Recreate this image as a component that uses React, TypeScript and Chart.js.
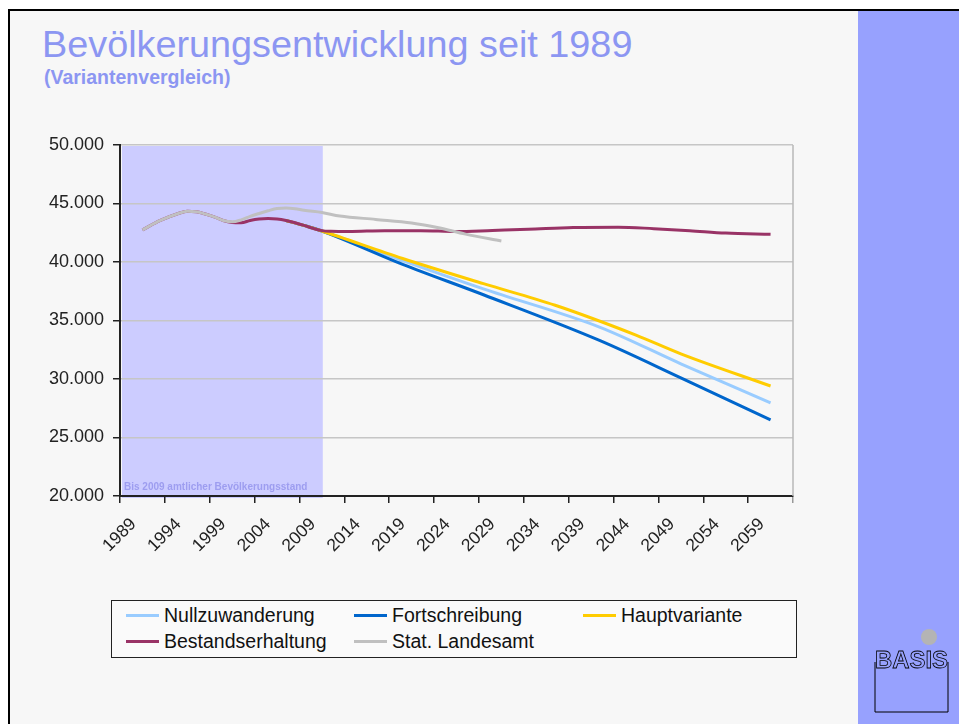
import React, { useEffect, useRef } from 'react';
import { Chart, registerables } from 'chart.js';

Chart.register(...registerables);

// ---- axis / categories ----
const FIRST_YEAR = 1989;
const LAST_YEAR = 2063;
const TICK_LABELS = ['1989', '1994', '1999', '2004', '2009', '2014', '2019', '2024', '2029', '2034', '2039', '2044', '2049', '2054', '2059'];
const Y_MIN = 20000;
const Y_MAX = 50000;
const Y_STEP = 5000;

// ---- texts ----
const TITLE = 'Bevölkerungsentwicklung seit 1989';
const SUBTITLE = '(Variantenvergleich)';
const SHADE_NOTE = 'Bis 2009 amtlicher Bevölkerungsstand';
const SHADE_END_YEAR = 2011.1;

// ---- series ----
const NULL_YEARS = [2007, 2009, 2011, 2020, 2029, 2042, 2051, 2061];
const NULL_VALUES = [43550, 43130, 42650, 40120, 37700, 34420, 31300, 27950];

const FORT_YEARS = [2007, 2009, 2011, 2020, 2029, 2042, 2051, 2061];
const FORT_VALUES = [43550, 43130, 42650, 39800, 37200, 33280, 30100, 26500];

const HAUPT_YEARS = [2007, 2009, 2011, 2020, 2029, 2037, 2046, 2051, 2061];
const HAUPT_VALUES = [43550, 43130, 42650, 40300, 38150, 36300, 33750, 32150, 29400];

const BEST_YEARS = [1991, 1993, 1995, 1996, 1997, 1998, 1999, 2000, 2001, 2002, 2003, 2004, 2005, 2006, 2007, 2008, 2009, 2010, 2011, 2012, 2014, 2018, 2022, 2026, 2030, 2034, 2039, 2044, 2048, 2052, 2056, 2061];
const BEST_VALUES = [42750, 43550, 44150, 44330, 44300, 44100, 43850, 43550, 43380, 43350, 43550, 43680, 43720, 43680, 43550, 43350, 43130, 42880, 42680, 42620, 42600, 42680, 42680, 42600, 42700, 42800, 42950, 42980, 42850, 42680, 42470, 42380];

const STAT_YEARS = [1991, 1993, 1995, 1996, 1997, 1998, 1999, 2000, 2001, 2002, 2003, 2004, 2005, 2006, 2007, 2008, 2009, 2011, 2013, 2017, 2021, 2024, 2027, 2031];
const STAT_VALUES = [42750, 43550, 44150, 44330, 44300, 44100, 43850, 43550, 43430, 43600, 43900, 44150, 44380, 44580, 44620, 44560, 44420, 44230, 43930, 43640, 43340, 42930, 42380, 41800];

const SERIES_NAMES = ['Nullzuwanderung', 'Fortschreibung', 'Hauptvariante', 'Bestandserhaltung', 'Stat. Landesamt'];
const SERIES_COLORS = ['#99ccff', '#0066cc', '#ffcc00', '#993366', '#c0c0c0'];
const SERIES_YEARS = [NULL_YEARS, FORT_YEARS, HAUPT_YEARS, BEST_YEARS, STAT_YEARS];
const SERIES_VALUES = [NULL_VALUES, FORT_VALUES, HAUPT_VALUES, BEST_VALUES, STAT_VALUES];

const FONT = '"Liberation Sans", Arial, Helvetica, sans-serif';

const categories: string[] = [];
for (let y = FIRST_YEAR; y <= LAST_YEAR; y++) categories.push(String(y));

const shadePlugin = {
  id: 'shade',
  beforeDraw(chart: any) {
    const { ctx, chartArea, scales } = chart;
    const x0 = chartArea.left + 2;
    const x1 = scales.x.getPixelForValue(SHADE_END_YEAR - FIRST_YEAR);
    ctx.save();
    ctx.fillStyle = '#ccccff';
    ctx.fillRect(x0, chartArea.top + 1, x1 - x0, chartArea.bottom + 2 - (chartArea.top + 1));
    ctx.font = 'bold 10px ' + FONT;
    ctx.fillStyle = '#9d9df0';
    ctx.textBaseline = 'alphabetic';
    ctx.textAlign = 'left';
    ctx.fillText(SHADE_NOTE, x0 + 2, chartArea.bottom - 6);
    ctx.restore();
  },
  beforeDatasetsDraw(chart: any) {
    const { ctx, chartArea } = chart;
    ctx.save();
    ctx.strokeStyle = '#b8b8b8';
    ctx.lineWidth = 1.5;
    ctx.beginPath();
    ctx.moveTo(chartArea.right, chartArea.top);
    ctx.lineTo(chartArea.right, chartArea.bottom);
    ctx.stroke();
    ctx.restore();
  },
};

function buildDatasets() {
  return SERIES_NAMES.map((name, i) => ({
    label: name,
    data: SERIES_YEARS[i].map((yr, k) => ({ x: String(yr), y: SERIES_VALUES[i][k] })),
    borderColor: SERIES_COLORS[i],
    backgroundColor: SERIES_COLORS[i],
    borderWidth: 3,
    pointRadius: 0,
    cubicInterpolationMode: 'monotone' as const,
    spanGaps: true,
    fill: false,
    order: SERIES_NAMES.length - i,
  }));
}

const LEGEND_COLS = [126, 354, 583];
const LEGEND_ROWS = [615, 641];

export default function App() {
  const canvasRef = useRef<HTMLCanvasElement>(null);

  useEffect(() => {
    if (!canvasRef.current) return;
    const chart = new Chart(canvasRef.current, {
      type: 'line',
      data: { labels: categories, datasets: buildDatasets() as any },
      options: {
        responsive: false,
        animation: false,
        devicePixelRatio: 1,
        layout: { padding: { left: 40, right: 166, top: 145, bottom: 158 } },
        plugins: { legend: { display: false }, tooltip: { enabled: false }, title: { display: false } },
        scales: {
          x: {
            type: 'category',
            offset: true,
            grid: {
              offset: true,
              drawOnChartArea: false,
              drawTicks: true,
              tickLength: 7,
              lineWidth: 1.5,
              tickColor: (c: any) => (c.index === undefined ? '#999' : c.index % 5 === 0 ? '#222' : 'rgba(0,0,0,0)'),
            },
            border: { display: true, color: '#222', width: 2 },
            ticks: {
              autoSkip: false,
              minRotation: 45,
              maxRotation: 45,
              padding: 11,
              labelOffset: 9,
              color: '#222',
              font: { family: FONT, size: 17.5 },
              callback: (_v: any, index: number) => (TICK_LABELS.includes(categories[index]) ? categories[index] : ''),
            },
            afterFit: (s: any) => { s.height = 70; },
          },
          y: {
            min: Y_MIN,
            max: Y_MAX,
            grid: { color: '#c6c6c6', lineWidth: 1.5, tickColor: '#222', tickLength: 7 },
            border: { display: true, color: '#222', width: 2 },
            ticks: {
              stepSize: Y_STEP,
              padding: 9,
              color: '#222',
              font: { family: FONT, size: 18 },
              callback: (v: any) => (Number(v) / 1000).toFixed(3),
            },
            afterFit: (s: any) => { s.width = 80; },
          },
        },
      },
      plugins: [shadePlugin],
    } as any);
    return () => chart.destroy();
  }, []);

  return (
    <div style={{ position: 'fixed', left: 0, top: 0, width: 959, height: 724, background: '#fff', overflow: 'hidden', fontFamily: FONT }}>
      <div style={{ position: 'absolute', left: 8, top: 9, width: 951, height: 715, borderLeft: '2px solid #000', borderTop: '2px solid #000', background: '#f7f7f7', boxSizing: 'border-box' }} />
      <div style={{ position: 'absolute', left: 858, top: 11, width: 101, height: 713, background: '#97a1fe' }} />
      <div style={{ position: 'absolute', left: 42, top: 25, fontSize: 37.8, lineHeight: '38px', color: '#8c96f2', whiteSpace: 'nowrap' }}>{TITLE}</div>
      <div style={{ position: 'absolute', left: 44, top: 66, fontSize: 19.5, fontWeight: 'bold', lineHeight: '22px', color: '#8c96f2', whiteSpace: 'nowrap' }}>{SUBTITLE}</div>
      <div style={{ position: 'absolute', left: 111, top: 600, width: 686, height: 58, border: '1px solid #222', background: '#fafafa', boxSizing: 'border-box' }} />
      {SERIES_NAMES.map((name, i) => (
        <div key={name} style={{ position: 'absolute', left: LEGEND_COLS[i % 3], top: LEGEND_ROWS[Math.floor(i / 3)] - 12, height: 24, display: 'flex', alignItems: 'center', whiteSpace: 'nowrap' }}>
          <div style={{ width: 33, height: 3, background: SERIES_COLORS[i], marginRight: 5 }} />
          <span style={{ fontSize: 19.5, lineHeight: '24px', color: '#111' }}>{name}</span>
        </div>
      ))}
      <canvas ref={canvasRef} width={959} height={724} style={{ position: 'absolute', left: 0, top: 0, width: 959, height: 724 }} />
      <svg width={959} height={724} style={{ position: 'absolute', left: 0, top: 0, pointerEvents: 'none' }}>
        <circle cx={929} cy={637} r={8} fill="#b4b4b4" />
        <path d="M875 662 L875 712 L948 712 L948 662" fill="none" stroke="#000" strokeWidth={1} />
        <text x={875} y={668} fontFamily={FONT} fontWeight="bold" fontSize={24} textLength={73} lengthAdjust="spacingAndGlyphs" fill="none" stroke="#000" strokeWidth={0.8}>BASIS</text>
      </svg>
    </div>
  );
}
